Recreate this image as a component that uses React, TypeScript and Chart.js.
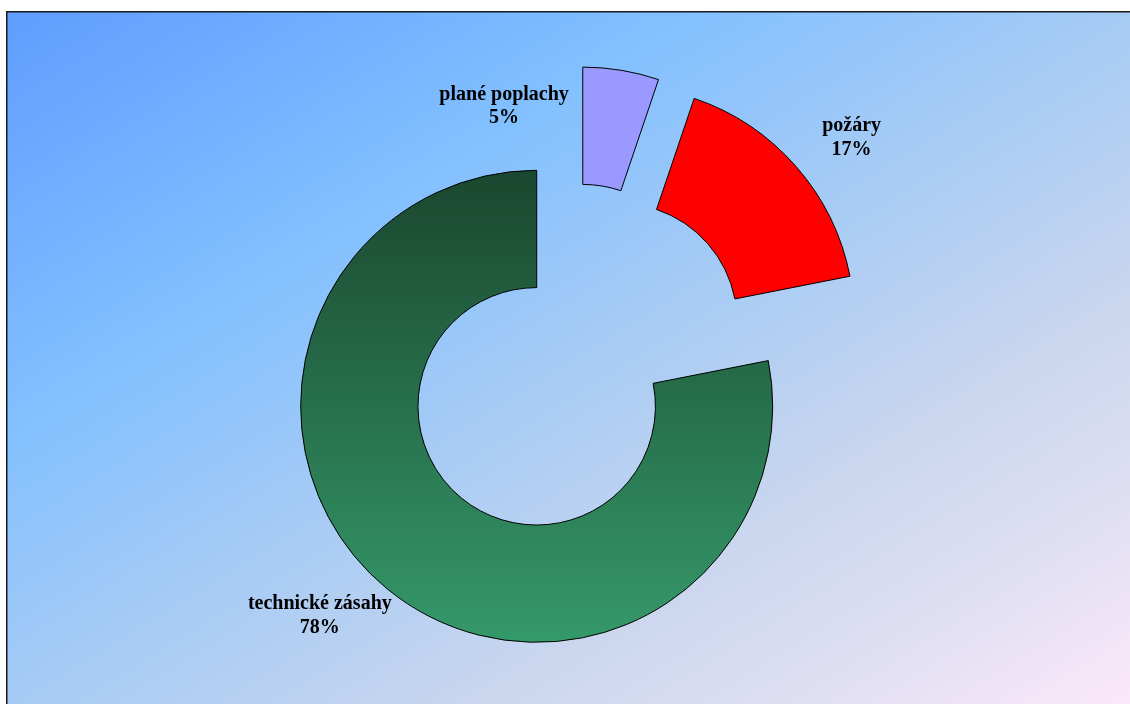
import React, { useEffect, useRef } from 'react';
import { Chart, registerables } from 'chart.js';

Chart.register(...registerables);

// ---- data ----
const categories = ['plané poplachy', 'požáry', 'technické zásahy'];
const shares = [5.2, 16.7, 78.1];

// ---- style ----
const sliceColors = ['#9999FF', '#FF0000', '#34996A'];
const greenTop = '#1A472F';
const greenBottom = '#35996A';
const explodeDistance = [113, 117.5, 0];
const explodeTurn = [14.7, -4.7, 0]; // degrees relative to slice bisector
const labelDistance = [207, 294, 305];
const labelTurn = [-31.7, 3.7, 5.9];
const labelFont = 'bold 20px "Liberation Serif", "Times New Roman", serif';
const frameLeft = 6.75;
const frameTop = 11.75;
const bgStops: [number, string][] = [
  [0, '#5F9DFF'],
  [0.3, '#82C0FF'],
  [0.5, '#A6CBF5'],
  [0.7, '#C9D6EE'],
  [0.85, '#E0DFF3'],
  [1, '#FCE9F9'],
];

const deg = Math.PI / 180;

const backgroundPlugin = {
  id: 'bgFrame',
  beforeDraw(chart: any) {
    const { ctx, width, height } = chart;
    ctx.save();
    ctx.fillStyle = '#ffffff';
    ctx.fillRect(0, 0, width, height);
    const W = width - frameLeft + 4;
    const H = height - frameTop + 4;
    const k = (2 * W * H) / (W * W + H * H);
    const g = ctx.createLinearGradient(frameLeft, frameTop, frameLeft + H * k, frameTop + W * k);
    bgStops.forEach(([t, c]) => g.addColorStop(t, c));
    ctx.fillStyle = g;
    ctx.fillRect(frameLeft, frameTop, W, H);
    ctx.strokeStyle = '#1a1a1a';
    ctx.lineWidth = 1.5;
    ctx.strokeRect(frameLeft, frameTop, W, H);
    ctx.restore();
  },
};

const explodePlugin = {
  id: 'explode',
  afterDatasetsUpdate(chart: any) {
    const meta = chart.getDatasetMeta(0);
    meta.data.forEach((arc: any, i: number) => {
      const d = explodeDistance[i] || 0;
      if (!d) return;
      const a = (arc.startAngle + arc.endAngle) / 2 + explodeTurn[i] * deg;
      arc.x += Math.cos(a) * d;
      arc.y += Math.sin(a) * d;
    });
  },
};

const labelPlugin = {
  id: 'sliceLabels',
  afterDatasetsDraw(chart: any) {
    const { ctx } = chart;
    const meta = chart.getDatasetMeta(0);
    const total = shares.reduce((s, v) => s + v, 0);
    ctx.save();
    ctx.font = labelFont;
    ctx.fillStyle = '#000000';
    ctx.textAlign = 'center';
    ctx.textBaseline = 'alphabetic';
    meta.data.forEach((arc: any, i: number) => {
      const a = (arc.startAngle + arc.endAngle) / 2 + labelTurn[i] * deg;
      const x = arc.x + Math.cos(a) * labelDistance[i];
      const y = arc.y + Math.sin(a) * labelDistance[i];
      const pct = Math.round((shares[i] / total) * 100) + '%';
      ctx.fillText(categories[i], x, y - 11.75);
      ctx.fillText(pct, x, y + 11.75);
    });
    ctx.restore();
  },
};

export default function App() {
  const ref = useRef<HTMLCanvasElement | null>(null);

  useEffect(() => {
    document.body.style.margin = '0';
    const canvas = ref.current;
    if (!canvas) return;
    const chart = new Chart(canvas, {
      type: 'doughnut',
      data: {
        labels: categories,
        datasets: [
          {
            data: shares,
            backgroundColor: (c: any) => {
              const i = c.dataIndex;
              if (i !== 2) return sliceColors[i];
              const ch = c.chart;
              const area = ch.chartArea;
              if (!area) return sliceColors[i];
              const cy = (area.top + area.bottom) / 2;
              const r = ch.getDatasetMeta(0).controller.outerRadius || 236;
              const g = ch.ctx.createLinearGradient(0, cy - r, 0, cy + r);
              g.addColorStop(0, greenTop);
              g.addColorStop(1, greenBottom);
              return g;
            },
            borderColor: '#000000',
            borderWidth: 1,
            borderJoinStyle: 'miter',
          } as any,
        ],
      },
      options: {
        responsive: false,
        animation: false,
        events: [],
        rotation: 0,
        circumference: 360,
        radius: 236,
        cutout: '50.3%',
        layout: { padding: { left: 0, right: 56.6, top: 108.6, bottom: 0 } },
        plugins: {
          legend: { display: false },
          tooltip: { enabled: false },
        },
      } as any,
      plugins: [backgroundPlugin, explodePlugin, labelPlugin],
    });
    return () => chart.destroy();
  }, []);

  return (
    <canvas
      ref={ref}
      width={1130}
      height={704}
      style={{ display: 'block', width: 1130, height: 704 }}
    />
  );
}
